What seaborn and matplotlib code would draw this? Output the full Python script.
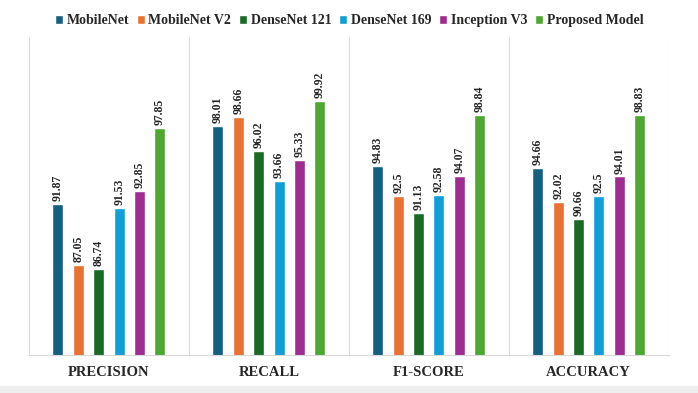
import matplotlib
matplotlib.use("Agg")
import matplotlib.pyplot as plt
import seaborn as sns
import pandas as pd

# metrics on the x axis
metrics = ["PRECISION", "RECALL", "F1-SCORE", "ACCURACY"]

# one list per model, in metric order
models = ["MobileNet", "MobileNet V2", "DenseNet 121", "DenseNet 169", "Inception V3", "Proposed Model"]
mobilenet = [91.87, 98.01, 94.83, 94.66]
mobilenet_v2 = [87.05, 98.66, 92.5, 92.02]
densenet_121 = [86.74, 96.02, 91.13, 90.66]
densenet_169 = [91.53, 93.66, 92.58, 92.5]
inception_v3 = [92.85, 95.33, 94.07, 94.01]
proposed = [97.85, 99.92, 98.84, 98.83]

colors = ["#156082", "#E97132", "#196B24", "#0F9ED5", "#A02B93", "#4EA72E"]

rows = []
for model, values in zip(models, [mobilenet, mobilenet_v2, densenet_121, densenet_169, inception_v3, proposed]):
    for metric, v in zip(metrics, values):
        rows.append({"metric": metric, "model": model, "value": v})
df = pd.DataFrame(rows)

sns.set_style("white")
plt.rcParams["font.family"] = ["Liberation Serif", "DejaVu Serif"]

fig = plt.figure(figsize=(6.98, 3.93), dpi=100)
ax = fig.add_axes([0.0415, 0.097, 0.9165, 0.81])

sns.barplot(data=df, x="metric", y="value", hue="model", order=metrics, hue_order=models,
            palette=colors, width=0.765, gap=0.46, saturation=1, ax=ax, legend=True)

# value labels above every bar
for container in ax.containers:
    ax.bar_label(container, labels=[f"{v:g}" for v in container.datavalues],
                 rotation=90, padding=2, fontsize=8.5, fontweight="bold")

ax.set_ylim(80, 105)
ax.set_xlim(-0.5, 3.5)
ax.set_yticks([])
ax.set_xlabel("")
ax.set_ylabel("")

# light separators between metric groups
ax.set_xticks([-0.5, 0.5, 1.5, 2.5, 3.5], minor=True)
ax.grid(which="minor", axis="x", color="#D9D9D9", linewidth=0.8)
ax.tick_params(axis="x", which="both", length=0, pad=8)
for lbl in ax.get_xticklabels():
    lbl.set_fontweight("bold")
    lbl.set_fontsize(10.5)

for side in ["top", "left", "right"]:
    ax.spines[side].set_visible(False)
ax.spines["bottom"].set_color("#D9D9D9")
ax.spines["bottom"].set_linewidth(0.8)

handles, labels = ax.get_legend_handles_labels()
ax.get_legend().remove()
fig.legend(handles, labels, loc="upper center", bbox_to_anchor=(0.5, 0.995), ncol=6,
           frameon=False, handlelength=0.6, handleheight=0.6, handletextpad=0.25,
           columnspacing=0.55, prop={"weight": "bold", "size": 10})

# gray strip at the bottom of the picture
fig.patches.append(plt.Rectangle((0, 0), 1, 0.018, transform=fig.transFigure,
                                 color="#EEEEEE", zorder=0))

fig.savefig("out.png", dpi=100)
